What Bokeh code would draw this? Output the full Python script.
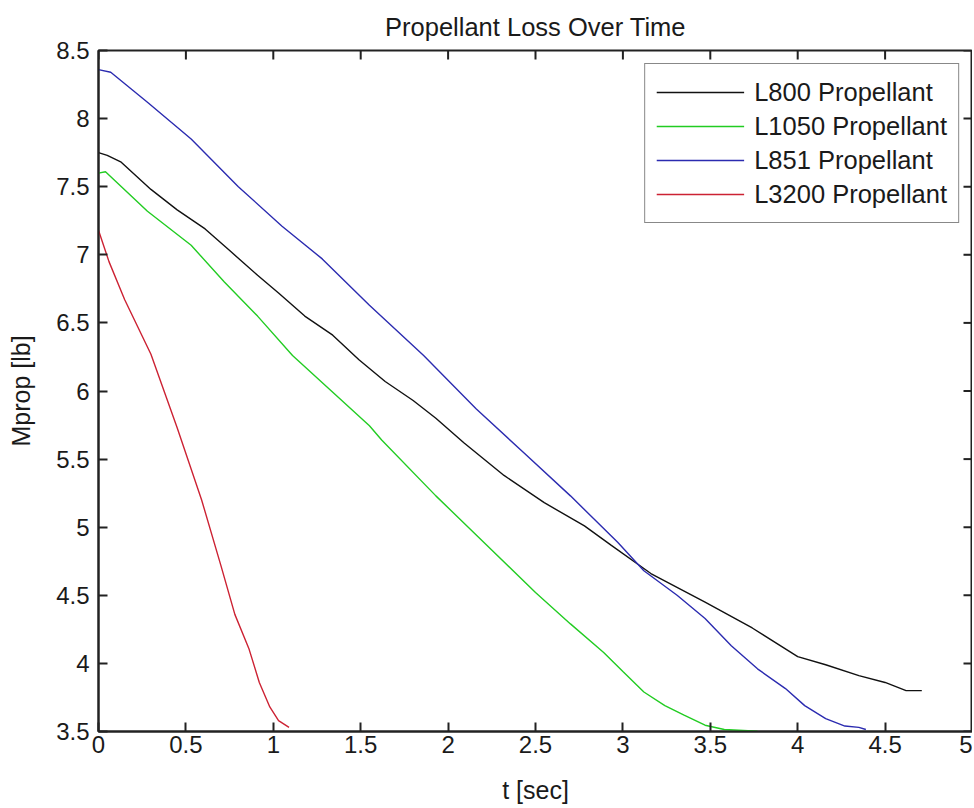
import math
from bokeh.plotting import figure
from bokeh.models import FixedTicker, Legend, LegendItem, Range1d
from bokeh.embed import file_html
from bokeh.resources import INLINE

# ---------------- data ----------------
title_text = "Propellant Loss Over Time"
x_label = "t [sec]"
y_label = "Mprop [lb]"

x_ticks = [0, 0.5, 1, 1.5, 2, 2.5, 3, 3.5, 4, 4.5, 5]
x_tick_labels = ["0", "0.5", "1", "1.5", "2", "2.5", "3", "3.5", "4", "4.5", "5"]
y_ticks = [3.5, 4, 4.5, 5, 5.5, 6, 6.5, 7, 7.5, 8, 8.5]
y_tick_labels = ["3.5", "4", "4.5", "5", "5.5", "6", "6.5", "7", "7.5", "8", "8.5"]

series_names = ["L800 Propellant", "L1050 Propellant", "L851 Propellant", "L3200 Propellant"]

l800_t = [0, 0.05, 0.13, 0.30, 0.45, 0.61, 0.76, 0.91, 1.03, 1.18, 1.34, 1.49, 1.64,
          1.80, 1.93, 2.09, 2.32, 2.55, 2.78, 2.93, 3.16, 3.47, 3.74, 4.00, 4.16,
          4.35, 4.50, 4.62, 4.71]
l800_m = [7.75, 7.73, 7.68, 7.48, 7.33, 7.19, 7.02, 6.85, 6.72, 6.55, 6.41, 6.23, 6.07,
          5.93, 5.80, 5.62, 5.38, 5.18, 5.01, 4.87, 4.66, 4.45, 4.26, 4.05, 3.99,
          3.91, 3.86, 3.80, 3.80]

l1050_t = [0, 0.04, 0.28, 0.53, 0.72, 0.91, 1.11, 1.55, 1.62, 1.93, 2.22, 2.50, 2.70,
           2.89, 3.00, 3.12, 3.24, 3.35, 3.47, 3.58, 3.77]
l1050_m = [7.60, 7.61, 7.32, 7.07, 6.80, 6.55, 6.26, 5.745, 5.64, 5.23, 4.87, 4.52, 4.29,
           4.08, 3.94, 3.79, 3.69, 3.62, 3.546, 3.515, 3.502]

l851_t = [0, 0.07, 0.28, 0.53, 0.80, 1.05, 1.28, 1.55, 1.86, 2.16, 2.43, 2.70, 2.97,
          3.12, 3.31, 3.47, 3.62, 3.77, 3.93, 4.04, 4.16, 4.27, 4.35, 4.39]
l851_m = [8.36, 8.34, 8.12, 7.85, 7.50, 7.21, 6.97, 6.63, 6.26, 5.87, 5.55, 5.23, 4.89,
          4.68, 4.50, 4.33, 4.13, 3.96, 3.815, 3.69, 3.595, 3.54, 3.53, 3.515]

l3200_t = [0, 0.06, 0.15, 0.30, 0.45, 0.59, 0.70, 0.78, 0.86, 0.92, 0.98, 1.03, 1.09]
l3200_m = [7.18, 6.95, 6.67, 6.27, 5.73, 5.20, 4.72, 4.36, 4.11, 3.86, 3.68, 3.58, 3.53]

series_colors = ["#111111", "#22cc22", "#2b2bb0", "#cc2233"]

# ---------------- figure ----------------
FONT = "Liberation Sans"
TXT = "#1a1a1a"
AX = "#222222"

p = figure(width=972, height=806,
           min_border_left=98, min_border_right=0, min_border_top=50, min_border_bottom=72,
           x_range=Range1d(x_ticks[0], x_ticks[-1]), y_range=Range1d(y_ticks[0], y_ticks[-1]),
           output_backend="svg", toolbar_location=None,
           background_fill_color="white", border_fill_color="white")

p.title.text = title_text
p.title.align = "center"
p.title.text_font = FONT
p.title.text_font_size = "25.5px"
p.title.text_font_style = "normal"
p.title.text_line_height = 1.0
p.title.text_color = TXT
p.title.standoff = 20

p.xgrid.visible = False
p.ygrid.visible = False
p.outline_line_color = AX
p.outline_line_width = 2
p.outline_line_alpha = 1.0


def style_axis(ax, ticks, labels):
    ax.ticker = FixedTicker(ticks=ticks)
    ax.major_label_overrides = {t: l for t, l in zip(ticks, labels)}
    ax.major_tick_in = 9
    ax.major_tick_out = 0
    ax.major_tick_line_width = 2
    ax.major_tick_line_color = AX
    ax.minor_tick_line_color = None
    ax.axis_line_width = 2
    ax.axis_line_color = AX
    ax.major_label_text_font = FONT
    ax.major_label_text_color = TXT
    ax.major_label_text_font_size = "24px"
    ax.axis_label_text_font = FONT
    ax.axis_label_text_color = TXT
    ax.axis_label_text_font_style = "normal"
    ax.axis_label_text_font_size = "25px"


style_axis(p.xaxis[0], x_ticks, x_tick_labels)
style_axis(p.yaxis[0], y_ticks, y_tick_labels)
p.xaxis[0].axis_label = x_label
p.yaxis[0].axis_label = y_label
p.xaxis[0].major_label_standoff = 4
p.xaxis[0].axis_label_standoff = 20
p.yaxis[0].major_label_standoff = 9
p.yaxis[0].axis_label_standoff = 18

# inward tick marks on the top and right edges of the box
p.ray(x=x_ticks, y=[y_ticks[-1]] * len(x_ticks), length=9, angle=-math.pi / 2,
      length_units="screen", line_color=AX, line_width=2)
p.ray(x=[x_ticks[-1]] * len(y_ticks), y=y_ticks, length=9, angle=math.pi,
      length_units="screen", line_color=AX, line_width=2)

series_t = [l800_t, l1050_t, l851_t, l3200_t]
series_m = [l800_m, l1050_m, l851_m, l3200_m]
items = []
for name, t, m, c in zip(series_names, series_t, series_m, series_colors):
    r = p.line(t, m, line_color=c, line_width=1.4)
    items.append(LegendItem(label=name, renderers=[r]))

legend = Legend(items=items, location="top_right", margin=13,
                padding=11, spacing=0, label_height=34, glyph_height=34, glyph_width=88,
                label_standoff=10, label_text_font=FONT, label_text_font_size="25.5px",
                label_text_color=TXT, border_line_color="#111111", border_line_width=1.5,
                background_fill_color="white", background_fill_alpha=1.0)
p.add_layout(legend)

open("out.html", "w").write(file_html(p, INLINE))
